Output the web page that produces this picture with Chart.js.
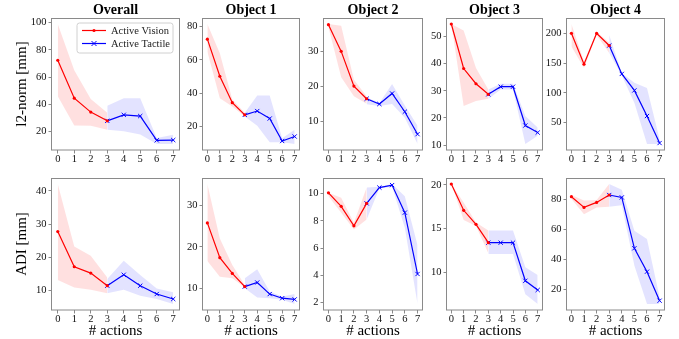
<!DOCTYPE html>
<html><head><meta charset="utf-8">
<script src="https://cdn.jsdelivr.net/npm/chart.js@4/dist/chart.umd.min.js"></script>
<style>
html,body{margin:0;padding:0;background:#fff;width:679px;height:339px;overflow:hidden;position:relative}
canvas{position:absolute}
</style></head><body>
<script>
// ---------- data ----------
const panelTitles = ['Overall', 'Object 1', 'Object 2', 'Object 3', 'Object 4'];
const metricLabels = ['l2-norm [mm]', 'ADI [mm]'];
const xLabel = '# actions';
const seriesNames = ['Active Vision', 'Active Tactile'];
const visionSteps = [0, 1, 2, 3];
const tactileSteps = [3, 4, 5, 6, 7];
const xTicks = [0, 1, 2, 3, 4, 5, 6, 7];
const l2Ticks = [[20, 40, 60, 80, 100], [20, 40, 60, 80], [10, 20, 30], [10, 20, 30, 40, 50], [50, 100, 150, 200]];
const adiTicks = [[10, 20, 30, 40], [10, 20, 30], [2, 4, 6, 8, 10], [10, 15, 20], [20, 40, 60, 80]];

// l2-norm, per panel (Overall, Object 1..4)
const l2VisionMean = [[72.4, 44.6, 34.4, 28], [72.5, 50.2, 34.3, 27], [37.6, 30, 20.1, 16.5], [54.6, 38.2, 32.6, 28.7], [200, 148, 200, 179.4]];
const l2VisionLow  = [[46, 24.6, 24.4, 21.5], [65, 37, 32, 26], [36.9, 22.6, 17.2, 15.1], [54.6, 24.4, 26.2, 27.1], [177.8, 141.7, 197, 166.7]];
const l2VisionHigh = [[99, 65, 44, 34], [81.6, 64, 36.3, 28.3], [37.8, 37.3, 21.9, 17.2], [54.6, 52.2, 38.4, 30.5], [215.6, 152.8, 202.8, 184]];
const l2TactileMean = [[28, 32.4, 31.5, 13.7, 13.9], [27, 29.3, 24.8, 11.3, 14], [16.5, 15, 18, 12.8, 6.4], [28.7, 31.5, 31.5, 17.2, 14.6], [179.4, 131.7, 104, 61, 15.6]];
const l2TactileLow  = [[21.5, 20.3, 18, 11, 11], [26, 20.4, 10.5, 10.5, 9.5], [14.9, 14.4, 15, 11.1, 3.6], [27, 30.5, 30.5, 10.4, 13.4], [166.7, 129, 83, 14, 14]];
const l2TactileHigh = [[39, 44.6, 44.6, 15.4, 17.8], [28.3, 38.7, 38.7, 13, 18], [16.9, 15.3, 20.7, 14.6, 8.8], [30.5, 32.6, 32.6, 20.7, 16.5], [197, 133, 116.7, 108, 22]];

// ADI, per panel
const adiVisionMean = [[27.8, 17.2, 15.3, 11.5], [25.8, 17.4, 13.6, 10.4], [10.05, 9.06, 7.63, 9.28], [20.1, 17.1, 15.5, 13.4], [81.6, 74.5, 77.8, 82.7]];
const adiVisionLow  = [[13.2, 11, 10.3, 9.2], [16.6, 12.8, 12.4, 10.2], [9.8, 8.6, 7.36, 8.1], [20.1, 16, 15.3, 12.2], [80, 70, 74.5, 75]];
const adiVisionHigh = [[42.1, 23.3, 20.5, 14], [35.2, 22, 15.6, 10.8], [10.05, 9.7, 7.85, 10.44], [20.1, 18, 15.7, 14.8], [82.7, 79, 79.4, 90]];
const adiTactileMean = [[11.5, 14.8, 11.5, 9, 7.5], [10.4, 11.4, 8.6, 7.6, 7.3], [9.28, 10.44, 10.62, 8.6, 4.1], [13.4, 13.4, 13.4, 9.05, 8.0], [82.7, 81.1, 47.4, 31.9, 12.7]];
const adiTactileLow  = [[9.2, 10.3, 8.5, 7.5, 6], [10, 7.8, 7.6, 7.2, 6.2], [8.1, 10.37, 10.5, 7.5, 1.9], [12.1, 12.1, 12.1, 7.5, 6.4], [75, 76, 35.9, 10.5, 10.5]];
const adiTactileHigh = [[13.5, 19, 14.7, 10.7, 9.5], [12.4, 14.6, 9.2, 8, 8.6], [10.44, 10.5, 10.7, 9.8, 6.2], [14.8, 14.8, 14.8, 10.6, 9.7], [90, 86.2, 59, 53.6, 15]];

// ---------- layout / style ----------
const COLS = [[52, 180], [203, 300], [324, 423], [447, 543], [567, 665]];
const ROWS = [[18, 150], [178, 310]];
const RED = '#ff0000', BLUE = '#0000ff';
const RED_FILL = 'rgba(255,0,0,0.12)', BLUE_FILL = 'rgba(0,0,255,0.11)';
const SPINE = '#8a8a8a';
const SERIF = "'Liberation Serif', 'Times New Roman', serif";

const pts = (xs, ys) => xs.map((x, i) => ({x: x, y: ys[i]}));

const framePlugin = {
  id: 'frame',
  afterDatasetsDraw(chart) {
    const {ctx, chartArea: a} = chart;
    ctx.save();
    ctx.strokeStyle = SPINE; ctx.lineWidth = 1;
    ctx.strokeRect(Math.round(a.left) - 0.5, Math.round(a.top) + 0.5, Math.round(a.right - a.left) + 1, Math.round(a.bottom - a.top) - 0.5);
    ctx.restore();
  }
};

const legendPlugin = {
  id: 'innerLegend',
  afterDraw(chart) {
    if (!chart.options.plugins.innerLegend || !chart.options.plugins.innerLegend.show) return;
    const {ctx, chartArea: a} = chart;
    const w = 96, h = 30;
    const x0 = a.right - 6 - w, y0 = a.top + 5;
    ctx.save();
    ctx.fillStyle = 'rgba(255,255,255,0.85)';
    ctx.strokeStyle = '#d0d0d0'; ctx.lineWidth = 1;
    const r = 2.5;
    ctx.beginPath();
    ctx.moveTo(x0 + r, y0); ctx.lineTo(x0 + w - r, y0); ctx.quadraticCurveTo(x0 + w, y0, x0 + w, y0 + r);
    ctx.lineTo(x0 + w, y0 + h - r); ctx.quadraticCurveTo(x0 + w, y0 + h, x0 + w - r, y0 + h);
    ctx.lineTo(x0 + r, y0 + h); ctx.quadraticCurveTo(x0, y0 + h, x0, y0 + h - r);
    ctx.lineTo(x0, y0 + r); ctx.quadraticCurveTo(x0, y0, x0 + r, y0);
    ctx.closePath(); ctx.fill(); ctx.stroke();
    const rows = [y0 + 7.5, y0 + 20.5];
    const cols = [RED, BLUE];
    rows.forEach((y, i) => {
      ctx.strokeStyle = cols[i]; ctx.lineWidth = 1.2;
      ctx.beginPath(); ctx.moveTo(x0 + 5, y); ctx.lineTo(x0 + 29, y); ctx.stroke();
      const cx = x0 + 17;
      if (i === 0) {
        ctx.fillStyle = RED; ctx.beginPath(); ctx.arc(cx, y, 1.6, 0, Math.PI * 2); ctx.fill();
      } else {
        ctx.lineWidth = 1; ctx.beginPath();
        ctx.moveTo(cx - 2.5, y - 2.5); ctx.lineTo(cx + 2.5, y + 2.5);
        ctx.moveTo(cx - 2.5, y + 2.5); ctx.lineTo(cx + 2.5, y - 2.5); ctx.stroke();
      }
      ctx.fillStyle = '#222'; ctx.font = '10.5px ' + SERIF;
      ctx.textAlign = 'left'; ctx.textBaseline = 'middle';
      ctx.fillText(seriesNames[i], x0 + 34, y + 0.5);
    });
    ctx.restore();
  }
};

function makePanel(row, col) {
  const [pl, pr] = COLS[col];
  const [pt, pb] = ROWS[row];
  const L = col === 0 ? 52 : 30, R = 4;
  const cTop = row === 0 ? 0 : 170, cBottom = row === 0 ? 170 : 339;
  const B = cBottom - pb, T = pt - cTop;
  const w = L + (pr - pl) + R, h = cBottom - cTop;
  const cv = document.createElement('canvas');
  cv.width = w; cv.height = h;
  cv.style.left = (pl - L) + 'px'; cv.style.top = cTop + 'px';
  cv.style.width = w + 'px'; cv.style.height = h + 'px';
  document.body.appendChild(cv);

  const vm = row === 0 ? l2VisionMean[col] : adiVisionMean[col];
  const vl = row === 0 ? l2VisionLow[col] : adiVisionLow[col];
  const vh = row === 0 ? l2VisionHigh[col] : adiVisionHigh[col];
  const tm = row === 0 ? l2TactileMean[col] : adiTactileMean[col];
  const tl = row === 0 ? l2TactileLow[col] : adiTactileLow[col];
  const th = row === 0 ? l2TactileHigh[col] : adiTactileHigh[col];
  const yt = row === 0 ? l2Ticks[col] : adiTicks[col];

  const lo = Math.min(...vl, ...tl), hi = Math.max(...vh, ...th);
  const pad = (hi - lo) * 0.05;

  const band = (data, color, fill) => ({
    data: data, fill: fill, backgroundColor: color, borderColor: 'rgba(0,0,0,0)',
    borderWidth: 0, pointRadius: 0, tension: 0
  });

  new Chart(cv, {
    type: 'line',
    data: {
      datasets: [
        band(pts(visionSteps, vh), RED_FILL, '+1'),
        band(pts(visionSteps, vl), RED_FILL, false),
        band(pts(tactileSteps, th), BLUE_FILL, '+1'),
        band(pts(tactileSteps, tl), BLUE_FILL, false),
        {label: seriesNames[0], data: pts(visionSteps, vm), borderColor: RED, borderWidth: 1.2,
         pointStyle: 'circle', pointRadius: 1.6, pointBackgroundColor: RED, pointBorderWidth: 0, fill: false, tension: 0},
        {label: seriesNames[1], data: pts(tactileSteps, tm), borderColor: BLUE, borderWidth: 1.2,
         pointStyle: 'crossRot', pointRadius: 3, pointBorderColor: BLUE, pointBorderWidth: 1, fill: false, tension: 0}
      ]
    },
    options: {
      responsive: false, animation: false, devicePixelRatio: 1, events: [],
      layout: {padding: {top: row === 0 ? 0 : T, right: R, left: 0, bottom: 0}},
      plugins: {
        legend: {display: false}, tooltip: {enabled: false},
        filler: {drawTime: 'beforeDatasetsDraw'},
        innerLegend: {show: row === 0 && col === 0},
        title: {
          display: row === 0, text: panelTitles[col], fullSize: false, color: '#000',
          font: {family: SERIF, size: 14, weight: 'bold', lineHeight: '16px'},
          padding: {top: 2, bottom: 0}
        }
      },
      scales: {
        x: {
          type: 'linear', min: -0.35, max: 7.35,
          afterBuildTicks: s => { s.ticks = xTicks.map(v => ({value: v})); },
          afterFit: s => { s.height = B; },
          border: {display: false},
          grid: {drawOnChartArea: false, drawTicks: true, tickLength: 3.5, color: SPINE},
          ticks: {autoSkip: false, maxRotation: 0, padding: 0, color: '#111',
                  font: {family: SERIF, size: 10.5, lineHeight: 1}},
          title: {display: row === 1, text: xLabel, color: '#000',
                  font: {family: SERIF, size: 15, lineHeight: '16px'}, padding: {top: 1, bottom: 0}}
        },
        y: {
          type: 'linear', min: lo - pad, max: hi + pad,
          afterBuildTicks: s => { s.ticks = yt.map(v => ({value: v})); },
          afterFit: s => { s.width = L; },
          border: {display: false},
          grid: {drawOnChartArea: false, drawTicks: true, tickLength: 3.5, color: SPINE},
          ticks: {padding: 2, color: '#111', font: {family: SERIF, size: 10.5, lineHeight: 1}},
          title: {display: col === 0, text: metricLabels[row], color: '#000',
                  font: {family: SERIF, size: 15, lineHeight: '16px'}, padding: {top: 14, bottom: 0}}
        }
      }
    },
    plugins: [framePlugin, legendPlugin]
  });
}

for (let r = 0; r < 2; r++) for (let c = 0; c < 5; c++) makePanel(r, c);
</script>
</body></html>
